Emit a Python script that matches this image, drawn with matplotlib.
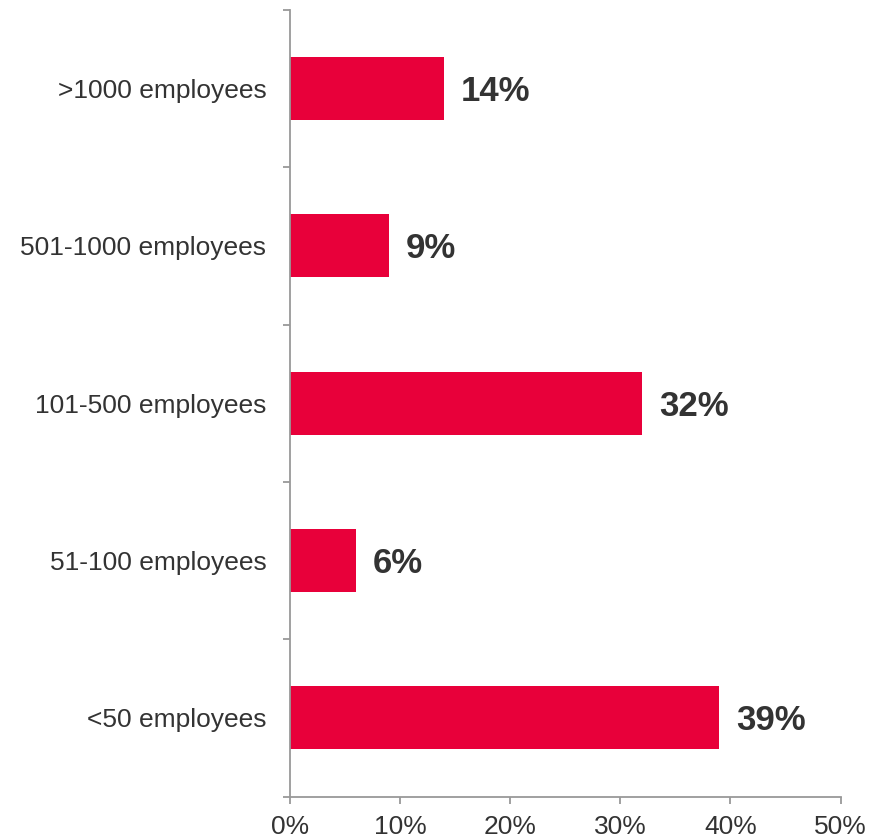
import matplotlib
matplotlib.use("Agg")
import matplotlib.pyplot as plt
from matplotlib.ticker import FixedLocator

categories = ["<50 employees", "51-100 employees", "101-500 employees",
              "501-1000 employees", ">1000 employees"]
values = [39, 6, 32, 9, 14]
xticks = [0, 10, 20, 30, 40, 50]
xtick_labels = ["0%", "10%", "20%", "30%", "40%", "50%"]

plt.rcParams['font.family'] = ['Liberation Sans', 'DejaVu Sans']

W, H = 885, 840
fig = plt.figure(figsize=(W / 100, H / 100), dpi=100)
ax = fig.add_axes([290 / W, (H - 796.5) / H, (840.5 - 290) / W, (796.5 - 10) / H])

bar_color = "#E8003A"
text_color = "#333333"
spine_color = "#999999"

ypos = list(range(len(categories)))
ax.barh(ypos, values, height=0.4, color=bar_color)
for y, v in zip(ypos, values):
    ax.text(v + 1.55, y - 0.018, f"{v}%", va="center", ha="left",
            fontsize=25, fontweight="bold", color=text_color)

ax.set_xlim(0, 50)
ax.set_ylim(-0.5, len(categories) - 0.5)
ax.set_xticks(xticks)
ax.set_xticklabels(xtick_labels)
ax.set_yticks(ypos)
ax.set_yticklabels(categories)
ax.yaxis.set_minor_locator(FixedLocator([i - 0.5 for i in range(len(categories) + 1)]))

for s in ["top", "right"]:
    ax.spines[s].set_visible(False)
for s in ["left", "bottom"]:
    ax.spines[s].set_color(spine_color)
    ax.spines[s].set_linewidth(1.3)

ax.tick_params(axis="y", which="major", length=0, pad=17, labelsize=19, labelcolor=text_color)
ax.tick_params(axis="y", which="minor", length=5, width=1.3, color=spine_color)
ax.tick_params(axis="x", which="major", length=5, width=1.3, color=spine_color,
               pad=8, labelsize=19, labelcolor=text_color)

fig.savefig("out.png", dpi=100)
